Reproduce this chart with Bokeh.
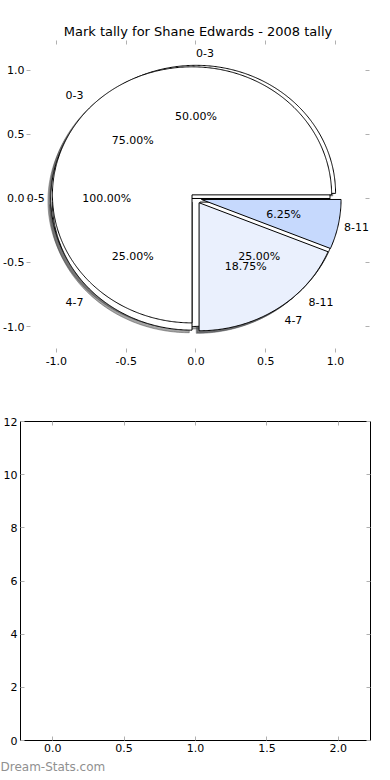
import numpy as np
from bokeh.plotting import figure
from bokeh.models import ColumnDataSource, Label, LinearAxis, FixedTicker, Range1d, Title
from bokeh.embed import file_html
from bokeh.resources import INLINE

# ---------------- data ----------------
chart_title = "Mark tally for Shane Edwards - 2008 tally"
pie1_labels = ["0-5"]
pie1_values = [100.0]
pie2_labels = ["0-3", "4-7", "8-11"]
pie2_values = [50.0, 25.0, 25.0]
pie3_labels = ["0-3", "4-7", "8-11"]
pie3_values = [75.0, 18.75, 6.25]
pie1_colors = ["#ffffff"]
pie2_colors = ["#ffffff", "#ffffff", "#ffffff"]
pie3_colors = ["#ffffff", "#eaf0fd", "#c6d9fd"]
explode = 0.04
pie_ticks = [-1.0, -0.5, 0.0, 0.5, 1.0]
pie_tick_labels = ["-1.0", "-0.5", "0.0", "0.5", "1.0"]
bar_x_ticks = [0.0, 0.5, 1.0, 1.5, 2.0]
bar_x_labels = ["0.0", "0.5", "1.0", "1.5", "2.0"]
bar_y_ticks = [0, 2, 4, 6, 8, 10, 12]
bar_y_labels = ["0", "2", "4", "6", "8", "10", "12"]
watermark = "Dream-Stats.com"

FONT = "DejaVu Sans"
TICK_COLOR = "#b0b0b0"


def build_pie(values, labels, colors):
    vals = np.asarray(values, dtype=float)
    edges = np.concatenate([[0.0], np.cumsum(vals / vals.sum())]) * 360.0
    wedges = []
    for i in range(len(vals)):
        a, b = edges[i], edges[i + 1]
        mid = np.radians((a + b) / 2.0)
        cx, cy = explode * np.cos(mid), explode * np.sin(mid)
        th = np.radians(np.linspace(a, b, max(int(b - a), 2) * 2))
        xs = np.concatenate([[cx], cx + np.cos(th), [cx]])
        ys = np.concatenate([[cy], cy + np.sin(th), [cy]])
        wedges.append(dict(xs=xs, ys=ys, color=colors[i], label=labels[i],
                           lx=cx + 1.1 * np.cos(mid), ly=cy + 1.1 * np.sin(mid),
                           px=cx + 0.6 * np.cos(mid), py=cy + 0.6 * np.sin(mid),
                           pct="%1.2f%%" % (100.0 * vals[i] / vals.sum())))
    return wedges


all_wedges = (build_pie(pie1_values, pie1_labels, pie1_colors)
              + build_pie(pie2_values, pie2_labels, pie2_colors)
              + build_pie(pie3_values, pie3_labels, pie3_colors))


def shade(hexcol):
    h = hexcol.lstrip("#")
    r, g, b = (int(h[k:k + 2], 16) for k in (0, 2, 4))
    return "#%02x%02x%02x" % (int(r * 0.3), int(g * 0.3), int(b * 0.3))


shadow_src = ColumnDataSource(dict(
    xs=[list(w["xs"] - 0.02) for w in all_wedges],
    ys=[list(w["ys"] - 0.02) for w in all_wedges],
    color=[shade(w["color"]) for w in all_wedges],
))
wedge_src = ColumnDataSource(dict(
    xs=[list(w["xs"]) for w in all_wedges],
    ys=[list(w["ys"]) for w in all_wedges],
    color=[w["color"] for w in all_wedges],
))


def style_axis(ax, ticks, labels, show_labels=True, standoff=3):
    ax.ticker = FixedTicker(ticks=ticks)
    ax.axis_line_color = None
    ax.major_tick_in = 4
    ax.major_tick_out = 0
    ax.major_tick_line_color = TICK_COLOR
    ax.minor_tick_line_color = None
    if show_labels:
        ax.major_label_overrides = {t: l for t, l in zip(ticks, labels)}
        ax.major_label_text_font = FONT
        ax.major_label_text_color = "#000000"
        ax.major_label_text_font_size = "11px"
        ax.major_label_standoff = standoff
    else:
        ax.major_label_text_font_size = "1px"
        ax.major_label_text_color = None
        ax.major_label_standoff = 0


# ---------------- top: pies ----------------
p1 = figure(width=390, height=390, x_range=Range1d(-1.214, 1.243), y_range=Range1d(-1.203, 1.234),
            output_backend="svg", toolbar_location=None,
            min_border_left=25, min_border_right=21, min_border_top=40, min_border_bottom=38)
p1.title.text = chart_title
p1.title.align = "center"
p1.title.text_font = FONT
p1.title.text_font_size = "13px"
p1.title.text_font_style = "normal"
p1.title.text_color = "#000000"
p1.title.standoff = 3
p1.outline_line_color = None
p1.xgrid.visible = False
p1.ygrid.visible = False

p1.patches("xs", "ys", source=shadow_src, fill_color="color", fill_alpha=0.5,
           line_color="color", line_alpha=0.5, line_width=1)
p1.patches("xs", "ys", source=wedge_src, fill_color="color", line_color="#000000", line_width=1)

for w in all_wedges:
    is_left = w["lx"] > 0
    # keep the outermost labels inside the plotting frame
    nudge = 8 if w["lx"] < -1.0 else (-8 if w["lx"] > 1.0 else 0)
    p1.add_layout(Label(x=w["lx"], y=w["ly"], text=w["label"], x_offset=nudge,
                        text_align="left" if is_left else "right", text_baseline="middle",
                        text_font=FONT, text_font_size="11px", text_color="#000000"))
for w in all_wedges:
    p1.add_layout(Label(x=w["px"], y=w["py"], text=w["pct"],
                        text_align="center", text_baseline="middle",
                        text_font=FONT, text_font_size="11px", text_color="#000000"))

style_axis(p1.xaxis[0], pie_ticks, pie_tick_labels, standoff=4)
style_axis(p1.yaxis[0], pie_ticks, pie_tick_labels, standoff=2)
top_ax = LinearAxis()
right_ax = LinearAxis()
style_axis(top_ax, pie_ticks, pie_tick_labels, show_labels=False)
style_axis(right_ax, pie_ticks, pie_tick_labels, show_labels=False)
p1.add_layout(top_ax, "above")
p1.add_layout(right_ax, "right")

# ---------------- bottom: empty axes ----------------
p2 = figure(width=390, height=388, x_range=Range1d(-0.225, 2.225), y_range=Range1d(0, 12),
            output_backend="svg", toolbar_location=None,
            min_border_left=20, min_border_right=20, min_border_top=31, min_border_bottom=38)
p2.outline_line_color = "#000000"
p2.outline_line_width = 1
p2.xgrid.visible = False
p2.ygrid.visible = False
style_axis(p2.xaxis[0], bar_x_ticks, bar_x_labels, standoff=3)
style_axis(p2.yaxis[0], bar_y_ticks, bar_y_labels, standoff=3)
top_ax2 = LinearAxis()
right_ax2 = LinearAxis()
style_axis(top_ax2, bar_x_ticks, bar_x_labels, show_labels=False)
style_axis(right_ax2, bar_y_ticks, bar_y_labels, show_labels=False)
p2.add_layout(top_ax2, "above")
p2.add_layout(right_ax2, "right")
p2.add_layout(Title(text=watermark, align="left", offset=-20, standoff=6,
                    text_font=FONT, text_font_size="12px", text_font_style="normal",
                    text_color="#909090"), "below")

open("out.html", "w").write(file_html([p1, p2], INLINE))
